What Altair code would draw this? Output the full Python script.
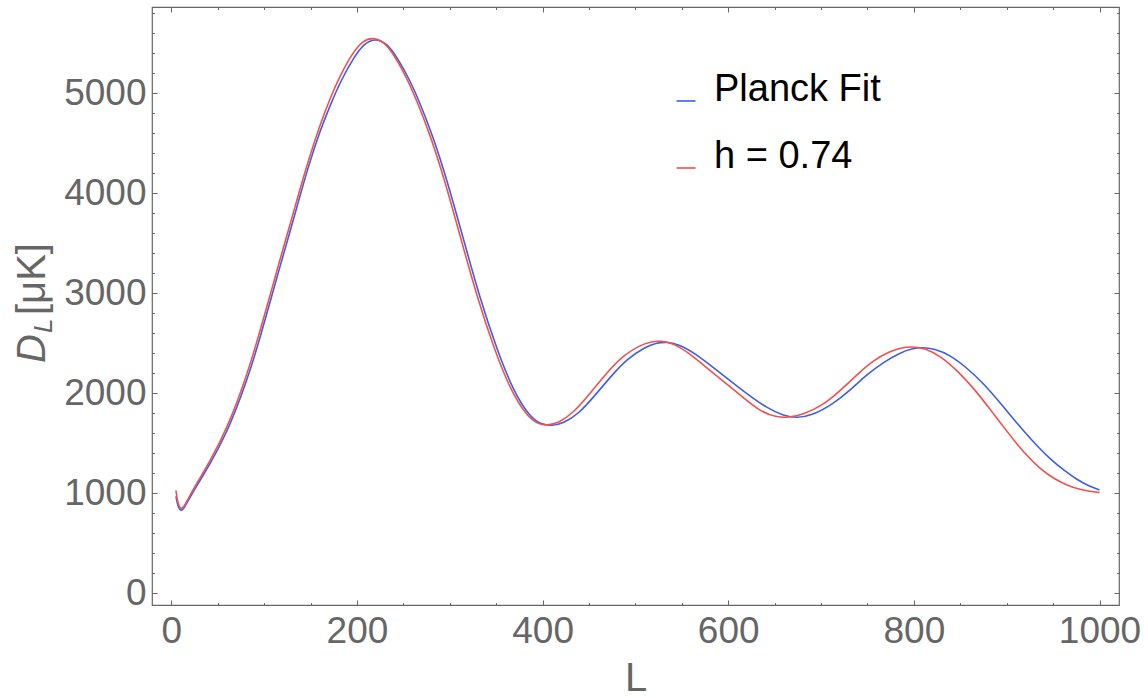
import altair as alt
import pandas as pd

# ---- data ----
series_names = ["Planck Fit", "h = 0.74"]
series_colors = ["#3B5FE6", "#F54F4F"]

L_planck = [5, 7, 10, 13, 18, 29, 40, 60, 82, 97, 107, 117, 128, 137, 148, 160, 172, 183,
            197, 208, 220, 232, 243, 257, 268, 282, 297, 315, 333, 351, 368, 386, 398, 410,
            422, 439, 457, 475, 492, 510, 522, 534, 548, 564, 583, 600, 618, 642, 660, 674,
            690, 713, 732, 749, 767, 785, 798, 809, 822, 839, 857, 875, 893, 911, 929, 947,
            962, 976, 988, 1000]
D_planck = [970, 870, 823, 840, 925, 1100, 1266, 1600, 2133, 2600, 2933, 3266, 3620, 3920,
            4280, 4620, 4900, 5133, 5366, 5500, 5550, 5500, 5366, 5133, 4900, 4566, 4133,
            3533, 2933, 2433, 2033, 1766, 1690, 1673, 1698, 1795, 1985, 2185, 2350, 2460,
            2502, 2516, 2485, 2400, 2265, 2140, 2010, 1850, 1775, 1752, 1778, 1893, 2035,
            2185, 2310, 2405, 2447, 2460, 2445, 2383, 2255, 2100, 1905, 1700, 1510, 1340,
            1228, 1135, 1075, 1033]

L_h074 = [5, 7, 10, 13, 18, 29, 40, 60, 82, 97, 107, 117, 128, 137, 148, 160, 171, 182, 195,
          206, 217, 229, 240, 254, 265, 279, 294, 312, 330, 348, 365, 383, 395, 405, 417, 434,
          452, 470, 487, 505, 516, 528, 542, 558, 577, 594, 612, 636, 653, 664, 680, 702, 721,
          738, 756, 774, 787, 799, 812, 829, 847, 865, 883, 901, 919, 937, 952, 966, 978, 990,
          1000]
D_h074 = [1030, 895, 843, 855, 945, 1125, 1295, 1640, 2190, 2670, 3000, 3335, 3690, 3990,
          4340, 4680, 4950, 5180, 5400, 5525, 5560, 5515, 5385, 5150, 4915, 4580, 4150, 3545,
          2945, 2440, 2040, 1770, 1692, 1678, 1702, 1810, 2010, 2215, 2380, 2480, 2515, 2526,
          2495, 2400, 2255, 2125, 1990, 1805, 1762, 1757, 1785, 1880, 2030, 2180, 2330, 2420,
          2458, 2468, 2450, 2370, 2225, 2045, 1830, 1610, 1400, 1235, 1140, 1075, 1040, 1018,
          1008]

x_major = [0, 200, 400, 600, 800, 1000]
x_minor = list(range(0, 1001, 50))
y_major = [0, 1000, 2000, 3000, 4000, 5000]
y_minor = list(range(0, 5801, 200))

x_domain = [-20.8, 1021]
y_domain = [-117, 5863]

# ---- table ----
rows = []
for i, (ls, ds) in enumerate([(L_planck, D_planck), (L_h074, D_h074)]):
    for l, d in zip(ls, ds):
        rows.append({"L": l, "D": d, "series": series_names[i], "order": i})
df = pd.DataFrame(rows)

W, H = 967, 598
GRAY = "#666666"
FONT = "Liberation Sans"


def axis(orient, values, size, labels=False, **kw):
    return alt.Axis(orient=orient, values=values, tickSize=size, offset=-size,
                    labels=labels, domain=False, grid=False, ticks=True, format="d",
                    tickColor=GRAY, tickWidth=1, labelFont=FONT, labelFontSize=37,
                    labelColor=GRAY, labelFlush=False, labelOverlap=False, **kw)


def enc(xaxis, yaxis):
    return dict(
        x=alt.X("L:Q", scale=alt.Scale(domain=x_domain, nice=False, zero=False), axis=xaxis),
        y=alt.Y("D:Q", scale=alt.Scale(domain=y_domain, nice=False, zero=False), axis=yaxis),
    )


lines = alt.Chart(df).mark_line(strokeWidth=1.6, interpolate="basis").encode(
    **enc(
        axis("bottom", x_major, 5, labels=True, labelPadding=8, title="L",
             titleFont=FONT, titleFontSize=40, titleColor=GRAY, titleFontWeight="normal",
             titleBaseline="alphabetic", titleY=90),
        axis("left", y_major, 5, labels=True, labelPadding=6, title=None),
    ),
    color=alt.Color("series:N", scale=alt.Scale(domain=series_names, range=series_colors),
                    legend=alt.Legend(title=None, orient="none", legendX=515, legendY=75,
                                      symbolType="stroke", symbolSize=361,
                                      symbolStrokeWidth=1.6, labelFont=FONT,
                                      labelFontSize=38, labelColor="black",
                                      labelOffset=9, rowPadding=29, labelLimit=0,
                                      labelBaseline="alphabetic", padding=0)),
    detail="series:N",
    order="order:Q",
)

minor_bl = alt.Chart(df).mark_line(opacity=0).encode(
    **enc(axis("bottom", x_minor, 2.5, title=None), axis("left", y_minor, 2.5, title=None)),
    detail="series:N",
)
major_tr = alt.Chart(df).mark_line(opacity=0).encode(
    **enc(axis("top", x_major, 5, title=None), axis("right", y_major, 5, title=None)),
    detail="series:N",
)
minor_tr = alt.Chart(df).mark_line(opacity=0).encode(
    **enc(axis("top", x_minor, 2.5, title=None), axis("right", y_minor, 2.5, title=None)),
    detail="series:N",
)

one = pd.DataFrame({"k": [0]})
t_D = alt.Chart(one).mark_text(text="D", angle=270, align="left", baseline="alphabetic",
                              font=FONT, fontSize=40, fontStyle="italic", color=GRAY).encode(
    x=alt.value(-107), y=alt.value(356))
t_L = alt.Chart(one).mark_text(text="L", angle=270, align="left", baseline="alphabetic",
                              font=FONT, fontSize=26, fontStyle="italic", color=GRAY).encode(
    x=alt.value(-100), y=alt.value(326))
t_U = alt.Chart(one).mark_text(text="[μK]", angle=270, align="left", baseline="alphabetic",
                              font=FONT, fontSize=40, color=GRAY).encode(
    x=alt.value(-107), y=alt.value(308))

chart = alt.layer(minor_bl, major_tr, minor_tr, lines, t_D, t_L, t_U).resolve_axis(
    x="independent", y="independent"
).properties(
    width=W, height=H,
    autosize=alt.AutoSizeParams(type="none"),
    padding={"left": 152, "top": 7, "right": 1148 - 152 - W, "bottom": 698 - 7 - H},
    background="white",
).configure_view(stroke=GRAY, strokeWidth=1.2)

chart.save("out.html", embed_options={"renderer": "svg", "actions": False})
